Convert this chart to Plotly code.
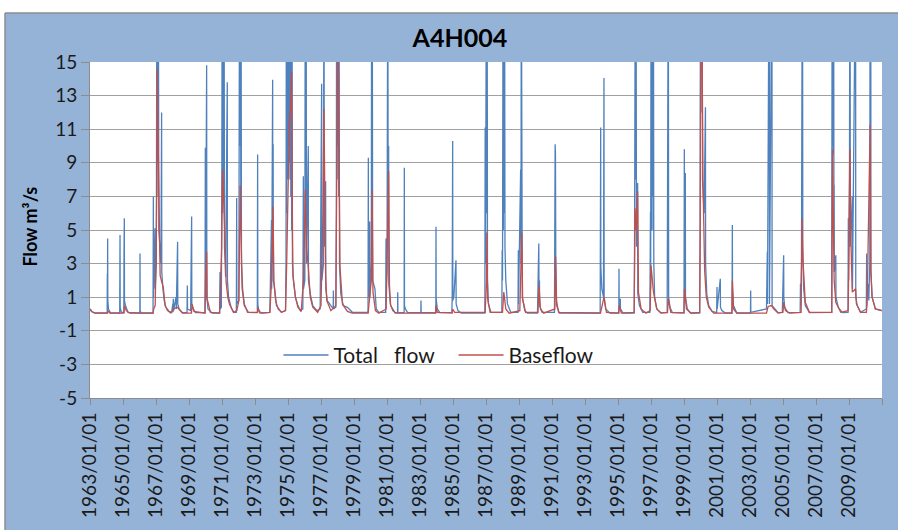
import plotly.graph_objects as go

# Streamflow record for gauge A4H004 (decimal year, flow in m3/s)
tf_year = [
    1963.00, 1963.10, 1963.30, 1964.04, 1964.05, 1964.06, 1964.07, 1964.08, 1964.12, 1964.25,
    1964.80, 1964.82, 1964.83, 1964.90, 1965.05, 1965.06, 1965.07, 1965.08, 1965.09, 1965.15,
    1965.30, 1966.02, 1966.03, 1966.04, 1966.10, 1966.82, 1966.84, 1966.85, 1966.94, 1966.95,
    1967.02, 1967.04, 1967.05, 1967.07, 1967.09, 1967.11, 1967.13, 1967.15, 1967.17, 1967.20,
    1967.22, 1967.30, 1967.34, 1967.35, 1967.42, 1967.50, 1967.60, 1967.80, 1967.95, 1968.02,
    1968.03, 1968.05, 1968.07, 1968.21, 1968.23, 1968.31, 1968.32, 1968.40, 1968.60, 1968.88,
    1968.90, 1968.91, 1969.10, 1969.16, 1969.17, 1969.25, 1969.40, 1969.97, 1969.99, 1970.00,
    1970.07, 1970.08, 1970.15, 1970.40, 1970.86, 1970.88, 1970.89, 1970.96, 1970.98, 1970.99,
    1971.01, 1971.03, 1971.05, 1971.07, 1971.09, 1971.11, 1971.13, 1971.15, 1971.22, 1971.32,
    1971.33, 1971.40, 1971.55, 1971.70, 1971.87, 1971.89, 1971.90, 1972.02, 1972.04, 1972.06,
    1972.08, 1972.10, 1972.12, 1972.14, 1972.16, 1972.18, 1972.25, 1972.35, 1972.55, 1973.14,
    1973.16, 1973.17, 1973.22, 1973.40, 1973.90, 1973.92, 1973.95, 1974.00, 1974.01, 1974.07,
    1974.08, 1974.10, 1974.11, 1974.15, 1974.25, 1974.40, 1974.60, 1974.85, 1974.88, 1974.90,
    1974.92, 1974.95, 1974.97, 1975.00, 1975.02, 1975.05, 1975.07, 1975.10, 1975.12, 1975.15,
    1975.17, 1975.20, 1975.22, 1975.25, 1975.27, 1975.33, 1975.45, 1975.60, 1975.75, 1975.90,
    1975.93, 1975.94, 1976.02, 1976.05, 1976.07, 1976.10, 1976.12, 1976.23, 1976.24, 1976.35,
    1976.50, 1976.75, 1976.95, 1977.04, 1977.05, 1977.15, 1977.18, 1977.20, 1977.28, 1977.29,
    1977.38, 1977.74, 1977.75, 1977.76, 1977.90, 1977.93, 1977.95, 1977.97, 1978.00, 1978.02,
    1978.05, 1978.07, 1978.10, 1978.12, 1978.20, 1978.35, 1978.60, 1978.90, 1979.85, 1979.87,
    1979.88, 1979.95, 1979.96, 1980.05, 1980.07, 1980.09, 1980.11, 1980.13, 1980.27, 1980.35,
    1980.50, 1980.92, 1980.94, 1980.95, 1981.00, 1981.05, 1981.07, 1981.10, 1981.11, 1981.20,
    1981.35, 1981.50, 1981.64, 1981.65, 1981.66, 1982.04, 1982.05, 1982.06, 1982.12, 1982.25,
    1983.05, 1983.06, 1983.07, 1983.96, 1983.97, 1983.98, 1984.05, 1984.20, 1984.93, 1984.95,
    1984.98, 1984.99, 1985.05, 1985.18, 1985.19, 1985.30, 1985.50, 1986.93, 1986.95, 1986.97,
    1987.02, 1987.04, 1987.06, 1987.08, 1987.09, 1987.15, 1987.30, 1987.96, 1987.98, 1988.00,
    1988.03, 1988.05, 1988.08, 1988.10, 1988.13, 1988.15, 1988.20, 1988.30, 1988.50, 1988.94,
    1988.96, 1988.97, 1989.10, 1989.12, 1989.14, 1989.16, 1989.20, 1989.35, 1989.50, 1990.12,
    1990.15, 1990.16, 1990.20, 1990.21, 1990.24, 1990.25, 1990.40, 1991.15, 1991.17, 1991.19,
    1991.21, 1991.23, 1991.27, 1991.40, 1993.92, 1993.95, 1993.96, 1994.02, 1994.12, 1994.15,
    1994.16, 1994.25, 1994.50, 1995.05, 1995.06, 1995.07, 1995.14, 1995.15, 1995.30, 1995.98,
    1996.00, 1996.02, 1996.04, 1996.06, 1996.08, 1996.10, 1996.12, 1996.19, 1996.20, 1996.30,
    1996.50, 1996.93, 1996.97, 1996.98, 1997.00, 1997.02, 1997.05, 1997.07, 1997.10, 1997.12,
    1997.15, 1997.17, 1997.22, 1997.35, 1997.60, 1997.98, 1998.00, 1998.02, 1998.05, 1998.07,
    1998.15, 1998.30, 1999.00, 1999.02, 1999.03, 1999.08, 1999.09, 1999.20, 1999.40, 1999.95,
    1999.98, 2000.00, 2000.02, 2000.05, 2000.07, 2000.10, 2000.12, 2000.22, 2000.30, 2000.31,
    2000.38, 2000.50, 2000.70, 2000.98, 2001.00, 2001.01, 2001.20, 2001.21, 2001.30, 2001.50,
    2001.91, 2001.93, 2001.94, 2002.00, 2002.20, 2003.03, 2003.04, 2003.05, 2004.00, 2004.05,
    2004.06, 2004.17, 2004.18, 2004.33, 2004.34, 2004.50, 2004.70, 2004.96, 2004.98, 2004.99,
    2005.04, 2005.05, 2005.10, 2005.30, 2006.04, 2006.06, 2006.07, 2006.12, 2006.14, 2006.16,
    2006.18, 2006.20, 2006.25, 2006.35, 2006.60, 2007.95, 2007.97, 2007.99, 2008.01, 2008.03,
    2008.05, 2008.07, 2008.09, 2008.10, 2008.11, 2008.20, 2008.21, 2008.35, 2008.60, 2008.94,
    2008.96, 2008.98, 2009.03, 2009.06, 2009.08, 2009.20, 2009.21, 2009.40, 2009.41, 2009.50,
    2009.70, 2010.05, 2010.07, 2010.09, 2010.15, 2010.20, 2010.26, 2010.28, 2010.30, 2010.32,
    2010.33, 2010.40, 2010.60, 2011.00,
]
tf_flow = [
    0.30, 0.15, 0.06, 0.06, 2.4, 0.3, 4.5, 0.8, 0.3, 0.06,
    0.06, 4.7, 0.4, 0.1, 0.1, 3.4, 0.9, 5.7, 0.8, 0.5,
    0.1, 0.06, 3.6, 0.2, 0.06, 0.06, 7.0, 1.0, 5.1, 1.5,
    3.0, 22, 6, 30, 9, 25, 7, 18, 5, 4.5,
    4.0, 3.0, 12.0, 2.5, 1.5, 0.8, 0.4, 0.15, 0.1, 0.6,
    0.1, 0.9, 0.2, 1.0, 0.3, 4.3, 0.6, 0.3, 0.08, 0.08,
    1.7, 0.3, 0.2, 5.8, 0.6, 0.3, 0.08, 0.08, 9.9, 0.8,
    14.8, 1.0, 0.3, 0.06, 0.06, 2.5, 0.3, 0.4, 3.3, 8.6,
    20, 6, 28, 9, 24, 7, 18, 4, 2.2, 13.8,
    2.0, 1.0, 0.4, 0.1, 0.1, 6.9, 0.6, 0.8, 22, 7,
    30, 10, 26, 6, 17, 3, 1.5, 0.6, 0.1, 0.08,
    9.5, 0.6, 0.2, 0.06, 0.1, 1.9, 0.8, 5.6, 1.5, 13.95,
    3.0, 10.1, 2.0, 1.8, 0.8, 0.3, 0.1, 0.2, 3.0, 20,
    6, 28, 8, 35, 10, 26, 9, 32, 8, 24,
    7, 20, 5, 16, 3, 2.0, 1.0, 0.5, 0.2, 0.3,
    8.2, 1.5, 2.0, 25, 6, 22, 3, 10.0, 2.0, 1.2,
    0.5, 0.2, 0.3, 13.7, 2.0, 3.0, 25, 4, 7.9, 1.5,
    0.8, 0.3, 1.4, 0.3, 0.4, 6.0, 25, 8, 32, 10,
    26, 7, 18, 3, 1.2, 0.5, 0.4, 0.1, 0.1, 9.3,
    1.0, 5.5, 1.0, 3.0, 25, 6, 20, 2.0, 1.5, 0.3,
    0.1, 0.1, 4.5, 1.5, 2.5, 22, 5, 10.0, 1.8, 0.6,
    0.2, 0.08, 0.08, 1.3, 0.1, 0.08, 8.7, 0.5, 0.3, 0.08,
    0.08, 0.8, 0.1, 0.08, 5.2, 0.9, 0.3, 0.08, 0.1, 0.9,
    10.3, 0.8, 1.0, 3.2, 0.6, 0.2, 0.06, 0.06, 11.1, 3.0,
    20, 6, 26, 12.2, 2.0, 0.6, 0.1, 0.1, 3.8, 2.0,
    18, 5, 25, 6, 18, 4, 2.0, 0.6, 0.1, 0.1,
    3.8, 0.6, 8.6, 3.0, 22, 5, 1.0, 0.2, 0.06, 0.06,
    2.2, 0.8, 4.2, 1.5, 2.0, 0.5, 0.1, 0.1, 2.6, 10.1,
    9.5, 3.0, 0.8, 0.1, 0.06, 11.1, 2.8, 1.5, 1.0, 14.05,
    1.0, 0.3, 0.06, 0.06, 2.7, 0.5, 0.9, 0.3, 0.06, 0.06,
    3.1, 20, 6, 25, 8, 18, 4, 7.8, 1.2, 0.5,
    0.1, 0.1, 6.1, 1.5, 18, 5, 26, 7, 22, 5,
    20, 3, 1.0, 0.3, 0.08, 0.08, 8.3, 1.5, 22, 1.0,
    0.4, 0.08, 0.08, 9.8, 1.5, 8.4, 1.0, 0.3, 0.06, 0.06,
    5.0, 25, 12, 30, 15, 24, 8, 6.0, 12.3, 3.0,
    1.2, 0.5, 0.15, 0.08, 1.6, 0.3, 2.1, 0.4, 0.2, 0.06,
    0.06, 5.3, 1.5, 0.5, 0.06, 0.06, 1.4, 0.1, 0.3, 3.7,
    0.6, 25, 0.6, 22, 0.5, 0.3, 0.08, 0.1, 2.0, 0.6,
    3.5, 1.0, 0.4, 0.08, 0.1, 1.8, 0.5, 3.0, 22, 8,
    26, 4, 1.5, 0.5, 0.08, 0.1, 8.0, 28, 10, 24,
    9.5, 20, 4, 7.7, 2.5, 3.5, 1.0, 0.4, 0.08, 0.1,
    5.7, 2.0, 9.0, 26, 4, 7.0, 1.5, 22, 1.0, 0.5,
    0.1, 0.3, 3.6, 1.0, 1.8, 0.8, 3.0, 22, 11, 20,
    2.6, 1.0, 0.3, 0.2,
]

bf_year = [
    1963.00, 1963.10, 1963.30, 1964.06, 1964.08, 1964.20, 1965.06, 1965.09, 1965.20, 1965.40,
    1966.83, 1966.86, 1966.95, 1967.00, 1967.05, 1967.08, 1967.12, 1967.18, 1967.25, 1967.35,
    1967.44, 1967.55, 1967.70, 1967.90, 1968.05, 1968.30, 1968.45, 1968.60, 1969.15, 1969.18,
    1969.30, 1969.97, 1970.00, 1970.07, 1970.10, 1970.30, 1970.85, 1970.98, 1971.03, 1971.08,
    1971.15, 1971.25, 1971.35, 1971.45, 1971.70, 1971.90, 1972.02, 1972.10, 1972.15, 1972.22,
    1972.35, 1972.60, 1973.16, 1973.18, 1973.30, 1973.90, 1974.00, 1974.09, 1974.15, 1974.30,
    1974.60, 1974.85, 1974.92, 1975.00, 1975.08, 1975.15, 1975.22, 1975.27, 1975.30, 1975.45,
    1975.60, 1975.80, 1975.95, 1976.05, 1976.12, 1976.23, 1976.35, 1976.50, 1976.80, 1977.00,
    1977.04, 1977.12, 1977.18, 1977.24, 1977.28, 1977.35, 1977.60, 1977.90, 1977.96, 1978.01,
    1978.06, 1978.10, 1978.15, 1978.30, 1978.60, 1978.90, 1979.86, 1979.90, 1980.05, 1980.10,
    1980.15, 1980.30, 1980.50, 1980.95, 1981.00, 1981.10, 1981.15, 1981.22, 1981.50, 1983.95,
    1983.97, 1984.05, 1984.95, 1984.98, 1985.10, 1986.95, 1987.03, 1987.05, 1987.10, 1987.25,
    1988.00, 1988.08, 1988.20, 1988.40, 1989.05, 1989.10, 1989.17, 1989.22, 1989.40, 1990.15,
    1990.21, 1990.30, 1990.50, 1991.17, 1991.22, 1991.28, 1991.45, 1993.94, 1994.15, 1994.30,
    1995.04, 1995.07, 1995.20, 1995.98, 1996.03, 1996.10, 1996.19, 1996.24, 1996.40, 1996.70,
    1996.95, 1997.00, 1997.08, 1997.15, 1997.35, 1997.60, 1998.00, 1998.05, 1998.20, 1999.00,
    1999.03, 1999.15, 1999.40, 1999.95, 1999.98, 2000.03, 2000.08, 2000.15, 2000.20, 2000.25,
    2000.35, 2000.50, 2000.80, 2001.90, 2001.93, 2002.00, 2002.20, 2004.00, 2004.10, 2004.30,
    2004.45, 2004.70, 2005.00, 2005.04, 2005.15, 2005.40, 2006.10, 2006.15, 2006.20, 2006.25,
    2006.35, 2006.60, 2007.96, 2008.00, 2008.05, 2008.10, 2008.20, 2008.50, 2008.95, 2009.06,
    2009.10, 2009.20, 2009.40, 2009.45, 2009.70, 2010.05, 2010.10, 2010.28, 2010.32, 2010.40,
    2010.60, 2011.00,
]
bf_flow = [
    0.30, 0.15, 0.05, 0.05, 0.2, 0.05, 0.05, 0.5, 0.2, 0.05,
    0.05, 0.3, 0.5, 3.0, 8.0, 14.6, 11.0, 6.7, 2.3, 1.9,
    1.6, 0.5, 0.2, 0.05, 0.3, 0.4, 0.2, 0.05, 0.05, 0.6,
    0.15, 0.05, 2.0, 3.7, 0.9, 0.1, 0.05, 3.9, 8.6, 7.5,
    5.4, 1.9, 1.0, 0.6, 0.1, 0.2, 0.8, 7.65, 4.3, 1.5,
    0.5, 0.1, 0.1, 0.4, 0.05, 0.1, 1.9, 6.4, 1.9, 0.5,
    0.1, 0.2, 3.0, 8.0, 11.4, 12.3, 14.4, 5.0, 2.3, 1.0,
    0.4, 0.15, 2.2, 7.4, 4.0, 2.8, 1.0, 0.4, 0.1, 0.5,
    2.3, 6.0, 12.2, 4.0, 2.3, 0.8, 0.2, 0.5, 7.6, 16,
    14, 6.8, 2.8, 0.6, 0.15, 0.05, 0.05, 0.5, 2.0, 7.4,
    1.3, 0.2, 0.05, 0.3, 2.5, 8.5, 1.7, 0.5, 0.05, 0.05,
    0.5, 0.1, 0.05, 0.3, 0.1, 0.1, 2.0, 4.85, 0.9, 0.1,
    0.1, 1.3, 0.3, 0.05, 0.2, 2.0, 4.85, 0.9, 0.1, 0.1,
    1.7, 0.3, 0.05, 0.3, 3.4, 0.5, 0.05, 0.05, 1.0, 0.1,
    0.05, 0.5, 0.05, 0.1, 6.3, 5.0, 7.3, 1.3, 0.3, 0.05,
    0.2, 2.9, 2.0, 1.3, 0.3, 0.05, 0.1, 0.9, 0.1, 0.05,
    1.5, 0.3, 0.05, 0.1, 5.0, 22, 18, 8.0, 5.1, 2.6,
    1.0, 0.4, 0.05, 0.05, 2.0, 0.3, 0.05, 0.05, 0.45, 0.5,
    0.3, 0.05, 0.1, 0.7, 0.2, 0.05, 0.1, 5.7, 3.4, 2.6,
    0.7, 0.1, 0.1, 9.8, 5.0, 2.0, 0.7, 0.1, 0.2, 9.8,
    4.9, 1.3, 1.5, 0.6, 0.1, 0.1, 0.6, 11.25, 2.6, 1.0,
    0.3, 0.2,
]

# Axis ticks: every second year, last tick left unlabelled
tick_years = list(range(1963, 2012, 2))
tick_labels = [f"{y}/01/01" for y in tick_years[:-1]] + [""]
y_ticks = list(range(-5, 16, 2))
y_labels = [str(v) for v in y_ticks]

BLUE = "#4F81BD"
RED = "#C0504D"
BG = "#95B3D7"
GRID = "#a0a0a0"
FONT = "Lato"

fig = go.Figure()
fig.add_trace(go.Scatter(
    x=tf_year, y=tf_flow, mode="lines", name="Total\u00a0\u00a0\u00a0flow",
    line=dict(color=BLUE, width=1.3), legend="legend", showlegend=True,
))
fig.add_trace(go.Scatter(
    x=bf_year, y=bf_flow, mode="lines", name="Baseflow",
    line=dict(color=RED, width=1.3), legend="legend2", showlegend=True,
))

# White page strip above and left of the blue chart panel, with a grey frame edge
fig.add_shape(type="rect", xref="paper", yref="paper",
              x0=-0.12, x1=1.03, y0=1.1458, y1=1.19,
              fillcolor="white", line=dict(width=0), layer="above")
fig.add_shape(type="rect", xref="paper", yref="paper",
              x0=-0.12, x1=-0.1073, y0=-0.40, y1=1.19,
              fillcolor="white", line=dict(width=0), layer="above")
fig.add_shape(type="line", xref="paper", yref="paper",
              x0=-0.1073, x1=1.03, y0=1.1458, y1=1.1458,
              line=dict(color="#8c8c8c", width=1.5), layer="above")
fig.add_shape(type="line", xref="paper", yref="paper",
              x0=-0.1073, x1=-0.1073, y0=-0.40, y1=1.1458,
              line=dict(color="#8c8c8c", width=1.5), layer="above")

legend_style = dict(
    orientation="h", yanchor="middle", xanchor="left", itemwidth=45,
    bgcolor="rgba(0,0,0,0)", font=dict(size=21, family=FONT, color="#1a1a1a"),
)

fig.update_layout(
    width=898, height=530,
    margin=dict(l=90, r=16, t=62, b=125),
    paper_bgcolor=BG,
    plot_bgcolor="white",
    showlegend=True,
    font=dict(family=FONT, color="#1a1a1a"),
    title=dict(
        text="A4H004", font=dict(family=FONT, size=25, weight="bold", color="black"),
        x=0.467, xref="paper", xanchor="center",
        y=1 - 38.5 / 530, yref="container", yanchor="middle",
    ),
    xaxis=dict(
        range=[1963, 2011], tickmode="array", tickvals=tick_years, ticktext=tick_labels,
        tickangle=-90, tickfont=dict(size=19, family=FONT, color="#1a1a1a"),
        ticks="outside", ticklen=6, tickcolor="#8c8c8c",
        showgrid=False, zeroline=False, showline=True, linecolor="#8c8c8c", linewidth=1,
    ),
    yaxis=dict(
        range=[-5, 15], tickmode="array", tickvals=y_ticks, ticktext=y_labels,
        tickfont=dict(size=19, family=FONT, color="#1a1a1a"),
        ticks="outside", ticklen=8, tickcolor="#8c8c8c",
        showgrid=True, gridcolor=GRID, gridwidth=1.2, zeroline=False,
        showline=True, linecolor="#8c8c8c", linewidth=1,
    ),
    legend=dict(legend_style, x=0.238, y=0.127),
    legend2=dict(legend_style, x=0.459, y=0.127),
    annotations=[dict(
        text="Flow m³/s", xref="paper", yref="paper", x=-0.0758, y=0.51,
        textangle=-90, showarrow=False, xanchor="center", yanchor="middle",
        font=dict(size=18, family=FONT, weight="bold", color="black"),
    )],
)

fig.write_html("out.html")
